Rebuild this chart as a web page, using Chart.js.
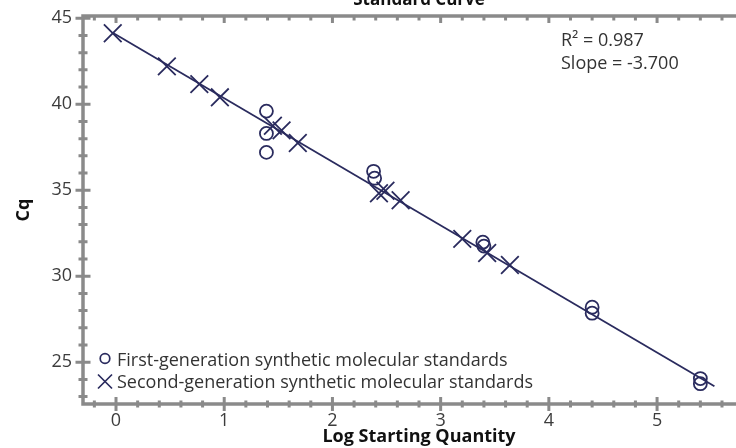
<!DOCTYPE html>
<html>
<head>
<meta charset="utf-8">
<script src="https://cdn.jsdelivr.net/npm/chart.js@4.4.1/dist/chart.umd.min.js"></script>
<style>
  html, body { margin: 0; padding: 0; background: #fff; }
  #wrap { width: 736px; height: 448px; overflow: hidden; position: relative; }
  #c { display: block; margin-top: -20px; }
</style>
</head>
<body>
<div id="wrap"><canvas id="c" width="760" height="468"></canvas></div>
<script>
// first-generation standards (circles)
const gen1X = [1.39, 1.39, 1.39, 2.38, 2.39, 3.39, 3.40, 4.40, 4.40, 5.40, 5.40];
const gen1Y = [39.6, 38.3, 37.2, 36.1, 35.7, 31.98, 31.75, 28.2, 27.85, 24.05, 23.75];

// second-generation standards (crosses)
const gen2X = [-0.03, 0.47, 0.77, 0.96, 1.45, 1.53, 1.68, 2.43, 2.49, 2.63, 3.20, 3.43, 3.64];
const gen2Y = [44.13, 42.2, 41.17, 40.4, 38.75, 38.48, 37.75, 34.82, 34.97, 34.42, 32.17, 31.35, 30.65];

// regression line end points
const fitX = [-0.03, 5.53];
const fitY = [44.16, 23.6];

const xTickValues = [0, 1, 2, 3, 4, 5];
const yTickValues = [25, 30, 35, 40, 45];

const statLines = ["R\u00B2 = 0.987", "Slope = -3.700"];
const legendLabels = ["First-generation synthetic molecular standards", "Second-generation synthetic molecular standards"];

const navy = "#2a2b5e";
const axisGrey = "#8a8a8a";
const font = "'Open Sans', sans-serif";

const toPoints = (xs, ys) => xs.map((x, i) => ({ x: x, y: ys[i] }));

// frame with crossing major/minor ticks
const framePlugin = {
    id: "frame",
    beforeDatasetsDraw(chart) {
        const { ctx, chartArea: a, scales } = chart;
        const xs = scales.x, ys = scales.y;
        ctx.save();
        ctx.strokeStyle = axisGrey;
        ctx.lineCap = "butt";
        ctx.lineWidth = 3.5;
        ctx.beginPath();
        ctx.moveTo(a.right, a.top);
        ctx.lineTo(a.left, a.top);
        ctx.lineTo(a.left, a.bottom);
        ctx.lineTo(a.right, a.bottom);
        ctx.stroke();

        ctx.lineWidth = 3;
        ctx.beginPath();
        for (let k = Math.ceil(xs.min / 0.2); k * 0.2 <= xs.max; k++) {
            const v = k * 0.2;
            const major = k % 5 === 0;
            const px = xs.getPixelForValue(v);
            const h = major ? 7 : 3.5;
            ctx.moveTo(px, a.bottom - h);
            ctx.lineTo(px, a.bottom + h);
            ctx.moveTo(px, a.top);
            ctx.lineTo(px, a.top + (major ? 7 : 4.5));
        }
        for (let v = Math.ceil(ys.min); v <= ys.max; v++) {
            const major = v % 5 === 0;
            const py = ys.getPixelForValue(v);
            const w = major ? 7.5 : 4.5;
            ctx.moveTo(a.left - w, py);
            ctx.lineTo(a.left + w, py);
        }
        ctx.stroke();
        ctx.restore();
    }
};

// inset legend and R2 / slope text
const notesPlugin = {
    id: "notes",
    afterDraw(chart) {
        const { ctx, chartArea: a } = chart;
        ctx.save();
        ctx.font = "18px " + font;
        ctx.fillStyle = "#333";
        ctx.textBaseline = "alphabetic";
        ctx.textAlign = "left";
        statLines.forEach((t, i) => ctx.fillText(t, a.left + 478, a.top + 30 + i * 23.3));

        const lx = a.left + 22;
        const rows = [a.bottom - 38.5, a.bottom - 16.5];
        ctx.strokeStyle = navy;
        ctx.lineWidth = 1.7;
        ctx.beginPath();
        ctx.arc(lx, rows[0] - 7, 4.8, 0, Math.PI * 2);
        ctx.stroke();
        ctx.beginPath();
        ctx.moveTo(lx - 7, rows[1] - 13);
        ctx.lineTo(lx + 7, rows[1] + 1);
        ctx.moveTo(lx + 7, rows[1] - 13);
        ctx.lineTo(lx - 7, rows[1] + 1);
        ctx.stroke();
        legendLabels.forEach((t, i) => ctx.fillText(t, lx + 12, rows[i]));
        ctx.restore();
    }
};

new Chart(document.getElementById("c"), {
    type: "scatter",
    data: {
        datasets: [
            {
                label: "Fit",
                data: toPoints(fitX, fitY),
                showLine: true,
                borderColor: navy,
                borderWidth: 1.8,
                pointRadius: 0
            },
            {
                label: legendLabels[0],
                data: toPoints(gen1X, gen1Y),
                pointStyle: "circle",
                pointRadius: 6.5,
                borderColor: navy,
                borderWidth: 1.8,
                backgroundColor: "rgba(0,0,0,0)"
            },
            {
                label: legendLabels[1],
                data: toPoints(gen2X, gen2Y),
                pointStyle: "crossRot",
                pointRadius: 12.5,
                borderColor: navy,
                borderWidth: 1.8
            }
        ]
    },
    options: {
        responsive: false,
        animation: false,
        events: [],
        layout: { autoPadding: false, padding: { left: 0, right: 5, top: 0, bottom: 0 } },
        plugins: {
            legend: { display: false },
            tooltip: { enabled: false },
            title: {
                display: true,
                text: "Standard Curve",
                fullSize: false,
                color: "#111",
                font: { family: font, size: 17, weight: "bold" },
                padding: { top: 10, bottom: 5.6 }
            }
        },
        scales: {
            x: {
                type: "linear",
                min: -0.305,
                max: 5.905,
                afterBuildTicks: s => { s.ticks = xTickValues.map(v => ({ value: v })); },
                afterFit: s => { s.height = 44; s.paddingLeft = 0; s.paddingRight = 0; },
                grid: { display: false, drawTicks: false },
                border: { display: false },
                ticks: {
                    padding: 6,
                    color: "#3c3c3c",
                    font: { family: font, size: 18 }
                },
                title: {
                    display: true,
                    text: "Log Starting Quantity",
                    color: "#111",
                    font: { family: font, size: 18, weight: "bold" },
                    padding: { top: 0, bottom: 0 }
                }
            },
            y: {
                type: "linear",
                min: 22.57,
                max: 45.13,
                afterBuildTicks: s => { s.ticks = yTickValues.map(v => ({ value: v })); },
                afterFit: s => { s.width = 83; s.paddingTop = 0; s.paddingBottom = 0; },
                grid: { display: false, drawTicks: false },
                border: { display: false },
                ticks: {
                    padding: 11,
                    color: "#3c3c3c",
                    font: { family: font, size: 18 }
                },
                title: {
                    display: true,
                    text: "Cq",
                    color: "#111",
                    font: { family: font, size: 18, weight: "bold" },
                    padding: { top: 13, bottom: 0 }
                }
            }
        }
    },
    plugins: [framePlugin, notesPlugin]
});
</script>
</body>
</html>
